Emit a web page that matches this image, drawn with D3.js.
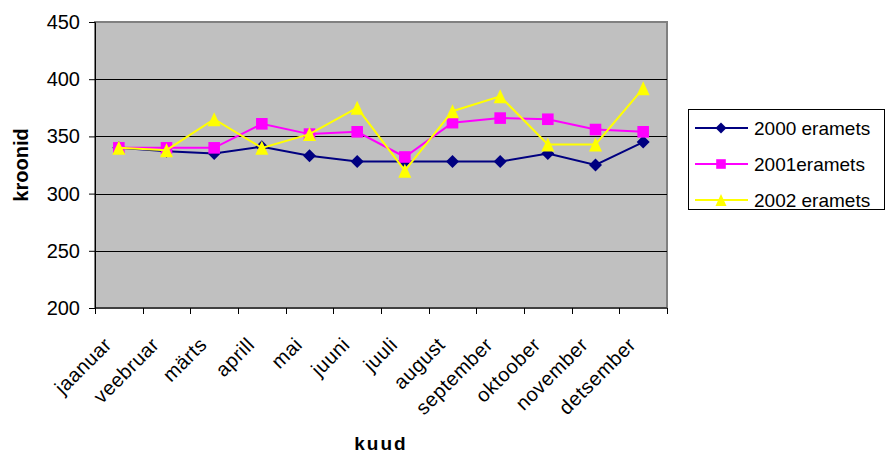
<!DOCTYPE html>
<html>
<head>
<meta charset="utf-8">
<script src="https://cdn.jsdelivr.net/npm/d3@7"></script>
<style>
  body { margin: 0; background: #fff; }
  text { font-family: "Liberation Sans", Arial, sans-serif; }
</style>
</head>
<body>
<script>
// months on the x axis
var months = ["jaanuar", "veebruar", "märts", "aprill", "mai", "juuni", "juuli",
              "august", "september", "oktoober", "november", "detsember"];
// series values
var v2000 = [340, 337, 335, 341, 333, 328, 328, 328, 328, 335, 325, 345];
var v2001 = [340, 340, 340, 361, 352, 354, 332, 362, 366, 365, 356, 354];
var v2002 = [340, 338, 365, 340, 352, 375, 320, 372, 385, 343, 343, 392];
var seriesNames = ["2000 eramets", "2001eramets", "2002 eramets"];
var yTicks = [200, 250, 300, 350, 400, 450];

var width = 886, height = 455;
var plot = {left: 95, top: 22, right: 667, bottom: 308};

//excel style marker shapes, r = half size
function diamond(r) { return "M0," + (-r) + "L" + r + ",0L0," + r + "L" + (-r) + ",0Z"; }
function square(r) { return "M" + (-r) + "," + (-r) + "h" + (2 * r) + "v" + (2 * r) + "h" + (-2 * r) + "Z"; }
function triangle(r) { return "M0," + (-r - 0.5) + "L" + r + "," + (r + 0.5) + "L" + (-r) + "," + (r + 0.5) + "Z"; }

var series = [
  {name: seriesNames[0], values: v2000, color: "#000080", shape: diamond, r: 6.5},
  {name: seriesNames[1], values: v2001, color: "#FF00FF", shape: square, r: 5.8},
  {name: seriesNames[2], values: v2002, color: "#FFFF00", shape: triangle, r: 6.5}
];

var svg = d3.select("body").append("svg")
    .attr("width", width)
    .attr("height", height);

var x = d3.scaleBand().domain(months).range([plot.left, plot.right]);
var y = d3.scaleLinear().domain([200, 450]).range([plot.bottom, plot.top]);

//plot background
svg.append("rect")
    .attr("x", plot.left).attr("y", plot.top)
    .attr("width", plot.right - plot.left).attr("height", plot.bottom - plot.top)
    .attr("fill", "#C0C0C0")
    .attr("stroke", "#808080").attr("stroke-width", 2);

//gridlines
svg.append("g").selectAll("line")
    .data(yTicks.slice(1, -1))
    .enter().append("line")
    .attr("x1", plot.left).attr("x2", plot.right)
    .attr("y1", function(d) { return Math.round(y(d)) + 0.5; })
    .attr("y2", function(d) { return Math.round(y(d)) + 0.5; })
    .attr("stroke", "#000").attr("stroke-width", 1);

//y axis
var yAxis = svg.append("g")
    .attr("transform", "translate(" + plot.left + ",0)")
    .call(d3.axisLeft(y).tickValues(yTicks).tickSize(6).tickPadding(9));
yAxis.select(".domain").attr("stroke", "#000");
yAxis.selectAll("text").attr("font-size", 20).attr("fill", "#000")
    .attr("font-family", "Liberation Sans, Arial, sans-serif");

//x axis with ticks between categories
var xAxis = svg.append("g")
    .attr("transform", "translate(0," + plot.bottom + ")");
xAxis.append("line")
    .attr("x1", plot.left).attr("x2", plot.right)
    .attr("stroke", "#000");
var bounds = months.map(function(m) { return x(m); }).concat([plot.right]);
xAxis.selectAll(".tick")
    .data(bounds)
    .enter().append("line")
    .attr("x1", function(d) { return Math.round(d) + 0.5; })
    .attr("x2", function(d) { return Math.round(d) + 0.5; })
    .attr("y1", 0).attr("y2", 6)
    .attr("stroke", "#000");
xAxis.selectAll(".lbl")
    .data(months)
    .enter().append("text")
    .attr("transform", function(d) {
      return "translate(" + (x(d) + x.bandwidth() / 2 - 16) + ",28) rotate(-45)";
    })
    .attr("text-anchor", "end")
    .attr("dy", "0.7em")
    .attr("font-size", 20)
    .attr("letter-spacing", 0.5)
    .text(function(d) { return d; });

//axis titles
svg.append("text")
    .attr("transform", "translate(28," + ((plot.top + plot.bottom) / 2) + ") rotate(-90)")
    .attr("text-anchor", "middle")
    .attr("font-size", 20).attr("font-weight", "bold")
    .text("kroonid");
svg.append("text")
    .attr("x", (plot.left + plot.right) / 2).attr("y", 450)
    .attr("text-anchor", "middle")
    .attr("font-size", 19).attr("font-weight", "bold")
    .attr("letter-spacing", 2)
    .text("kuud");

//lines and markers
var line = d3.line()
    .x(function(d, i) { return x(months[i]) + x.bandwidth() / 2; })
    .y(function(d) { return y(d); });

series.forEach(function(s) {
  svg.append("path")
      .attr("d", line(s.values))
      .attr("fill", "none")
      .attr("stroke", s.color)
      .attr("stroke-width", 2);
  svg.append("g").selectAll("path")
      .data(s.values)
      .enter().append("path")
      .attr("transform", function(d, i) {
        return "translate(" + (x(months[i]) + x.bandwidth() / 2) + "," + y(d) + ")";
      })
      .attr("d", s.shape(s.r))
      .attr("fill", s.color);
});

//legend
var legend = svg.append("g");
legend.append("rect")
    .attr("x", 688.5).attr("y", 109.5)
    .attr("width", 196).attr("height", 100)
    .attr("fill", "#fff").attr("stroke", "#000");
var rows = legend.selectAll(".row")
    .data(series)
    .enter().append("g")
    .attr("transform", function(d, i) { return "translate(0," + (128 + i * 36) + ")"; });
rows.append("line")
    .attr("x1", 695).attr("x2", 748)
    .attr("stroke", function(d) { return d.color; })
    .attr("stroke-width", 2);
rows.append("path")
    .attr("transform", "translate(721,0)")
    .attr("d", function(d) { return d.shape(d.r - 1); })
    .attr("fill", function(d) { return d.color; });
rows.append("text")
    .attr("x", 754).attr("dy", "0.36em")
    .attr("font-size", 19)
    .text(function(d) { return d.name; });
</script>
</body>
</html>
